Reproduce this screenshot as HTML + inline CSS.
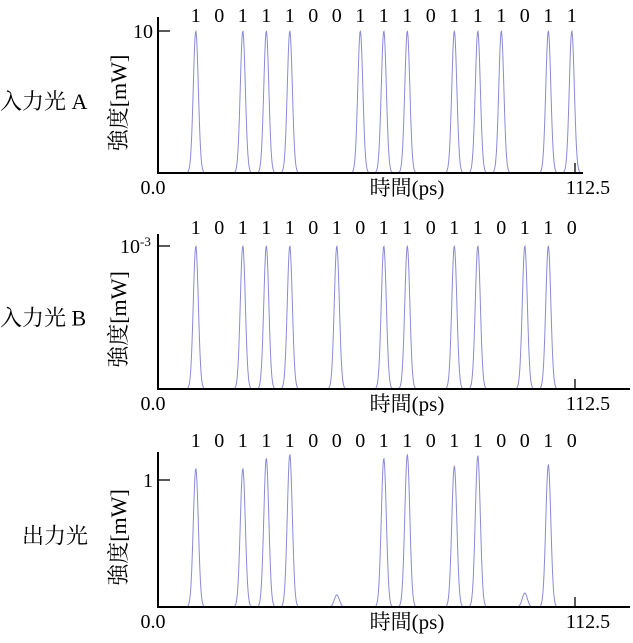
<!DOCTYPE html>
<html><head><meta charset="utf-8"><style>
body{margin:0;background:#fff;width:633px;height:643px;overflow:hidden}
svg{display:block}
text{font-family:"Liberation Serif","Noto Serif CJK SC","Noto Sans CJK JP",serif;fill:#000}
</style></head><body>
<svg id="c" width="633" height="643"></svg>
<script>
const bitsA=[1,0,1,1,1,0,0,1,1,1,0,1,1,1,0,1,1];
const bitsB=[1,0,1,1,1,0,1,0,1,1,0,1,1,0,1,1,0];
const bitsOut=[1,0,1,1,1,0,0,0,1,1,0,1,1,0,0,1,0];
const peaksA=[1,0,1,1,1,0,0,1,1,1,0,1,1,1,0,1,1];
const peaksB=[1,0,1,1,1,0,1,0,1,1,0,1,1,0,1,1,0];
const peaksOut=[1.09,0,1.09,1.17,1.2,0,0.095,0,1.17,1.2,0,1.11,1.19,0,0.11,1.12,0];
const xTicks=["0.0","112.5"];
const tMax=112.5, t0=10.2, period=6.34, sigma=0.68;
const panels=[
 {label:"入力光 A",bits:bitsA,peaks:peaksA,tick:"10",axisY:173,tickY:31,topY:17,xEnd:583,labX:0,sup:false},
 {label:"入力光 B",bits:bitsB,peaks:peaksB,tick:"10",axisY:389,tickY:246,topY:234,xEnd:630,labX:0,sup:true},
 {label:"出力光",bits:bitsOut,peaks:peaksOut,tick:"1",axisY:607,tickY:480,topY:452,xEnd:630,labX:22,sup:false}
];
const svg=document.getElementById('c');
const NS="http://www.w3.org/2000/svg";
function mk(tag,attrs,txt){const e=document.createElementNS(NS,tag);for(const k in attrs)e.setAttribute(k,attrs[k]);if(txt!==undefined)e.textContent=txt;svg.appendChild(e);return e;}
const x0=158,x1=575;
const xs=t=>x0+(t/tMax)*(x1-x0);
panels.forEach((p,pi)=>{
 const ys=v=>p.axisY-v*(p.axisY-p.tickY);
 let l=mk('text',{x:p.labX,y:(p.topY+p.axisY)/2+14,'font-size':22});
 l.textContent=p.label;
 
 
 let yt=mk('text',{transform:`translate(126,${(p.topY+p.axisY)/2+8}) rotate(-90)`,'text-anchor':'middle','font-size':22},'強度[mW]');
 
 
 let d='';
 for(let px=x0;px<=x1+6;px+=0.5){
  const t=(px-x0)/(x1-x0)*tMax;
  let v=0;
  p.peaks.forEach((h,i)=>{const c=t0+i*period;v+=h*Math.exp(-((t-c)**2)/(2*sigma*sigma));});
  d+=(d?'L':'M')+px.toFixed(1)+','+ys(v).toFixed(2);
 }
 let c=mk('path',{d:d,fill:'none',stroke:'#8a8ad8','stroke-width':1});
 
 
 let ax=mk('path',{d:`M${x0},${p.topY}V${p.axisY}H${p.xEnd}`,fill:'none',stroke:'#000','stroke-width':2});
 
 
 mk('line',{x1:x0,x2:x0+12,y1:p.tickY,y2:p.tickY,stroke:'#000','stroke-width':1.3});
 mk('line',{x1:x1,x2:x1,y1:p.axisY-10,y2:p.axisY,stroke:'#000','stroke-width':1.3});
 let tl=mk('text',{x:(x0-5),y:p.tickY+7,'text-anchor':'end','font-size':20});
 tl.textContent=p.tick;
 if(p.sup){tl.setAttribute('text-anchor','start');tl.setAttribute('x',120);const s=document.createElementNS(NS,'tspan');s.setAttribute('dy',-7);s.setAttribute('font-size',13);s.textContent='-3';tl.appendChild(s);}
 
 
 let a=mk('text',{x:153,y:p.axisY+21,'text-anchor':'middle','font-size':20},xTicks[0]);
 
 
 let b=mk('text',{x:588,y:p.axisY+21,'text-anchor':'middle','font-size':20},xTicks[1]);
 
 
 let xt=mk('text',{x:407,y:p.axisY+22,'text-anchor':'middle','font-size':21},'時間(ps)');
 
 
 p.bits.forEach((bv,i)=>{
  let bt=mk('text',{x:xs(t0+i*period),y:pi==0?22:(pi==1?234:447),'text-anchor':'middle','font-size':20},String(bv));
  
  
 });
});
</script>
</body></html>
